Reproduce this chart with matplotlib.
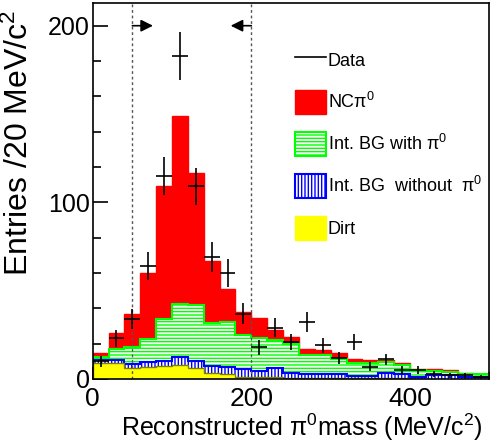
import numpy as np
import matplotlib
matplotlib.use("Agg")
import matplotlib.pyplot as plt
from matplotlib.lines import Line2D
from matplotlib.patches import Patch
from matplotlib.ticker import MultipleLocator

plt.rcParams['font.family'] = ['Liberation Sans', 'DejaVu Sans']
plt.rcParams['mathtext.fontset'] = 'custom'
plt.rcParams['mathtext.rm'] = 'Liberation Sans'
plt.rcParams['mathtext.it'] = 'Liberation Sans:italic'
plt.rcParams['hatch.linewidth'] = 1.0

# 20 MeV bins from 0 to 500
edges = np.arange(0, 520, 20)
centers = edges[:-1] + 10

# MC components (entries per bin), stacked bottom -> top
dirt = [9.2, 9.2, 6.0, 6.8, 7.2, 7.9, 6.0, 3.2, 2.6, 1.3, 1.3, 1.0, 0.3,
        0.3, 0.3, 0.3, 0.3, 0.3, 0.3, 0.3, 0.2, 0.2, 0.2, 0.2, 0.2]
bg_no_pi0 = [1.6, 1.6, 2.7, 2.7, 2.9, 4.3, 4.3, 4.0, 4.4, 4.2, 3.4, 5.0, 3.1,
             2.2, 2.2, 2.4, 1.3, 1.3, 3.1, 2.5, 0.7, 2.0, 1.8, 1.1, 0.7]
bg_pi0 = [1.4, 6.0, 9.1, 13.1, 23.9, 30.4, 31.3, 24.7, 25.1, 19.2, 18.3, 16.3, 16.6,
          11.1, 10.9, 8.8, 7.3, 7.6, 6.4, 4.9, 4.2, 2.5, 2.0, 1.5, 1.9]
ncpi0 = [2.3, 9.2, 19.0, 37.4, 75.3, 106.3, 75.0, 34.7, 18.9, 13.3, 11.7, 5.4, 3.6,
         3.2, 3.0, 3.0, 2.3, 1.6, 1.0, 1.2, 0.7, 0.8, 0.8, 0.5, 0.1]

data = [10, 23, 34, 64, 115, 183, 109, 69, 60, 37, 18, 29, 21,
        32, 19, 12, 21, 7, 11, 5, 5, 3, 2, 2, 1]

cum_dirt = np.array(dirt)
cum_nopi0 = cum_dirt + np.array(bg_no_pi0)
cum_pi0 = cum_nopi0 + np.array(bg_pi0)
cum_total = cum_pi0 + np.array(ncpi0)

fig = plt.figure(figsize=(4.98, 4.43), dpi=100)
ax = fig.add_axes([0.1861, 0.1447, 0.7964, 0.8479])

green = '#00ff00'
ax.stairs(cum_total, edges, fill=True, facecolor='#ff0000', edgecolor='#ff0000',
          linewidth=1, zorder=1)
ax.stairs(cum_pi0, edges, fill=True, facecolor='white', edgecolor=green,
          hatch='-----', linewidth=1.5, zorder=2)
ax.stairs(cum_nopi0, edges, fill=True, facecolor='white', edgecolor='#0000ff',
          hatch='|||||', linewidth=1.5, zorder=3)
ax.stairs(cum_dirt, edges, fill=True, facecolor='#ffff00', edgecolor='#808000',
          linewidth=1, zorder=4)

ax.errorbar(centers, data, xerr=10, yerr=np.sqrt(data), fmt='none',
            ecolor='black', elinewidth=1.2, capsize=0, zorder=10)

# selection window
for xc in (50, 200):
    ax.axvline(xc, color='#555555', linestyle=(0, (2, 2)), linewidth=1, zorder=6)
arrow = dict(arrowstyle='-|>,head_length=0.6,head_width=0.3', color='black',
             lw=1.2, shrinkA=0, shrinkB=0, mutation_scale=12)
ax.annotate('', xy=(76, 200), xytext=(50, 200), arrowprops=arrow, zorder=7)
ax.annotate('', xy=(174, 200), xytext=(200, 200), arrowprops=arrow, zorder=7)

ax.set_xlim(0, 500)
ax.set_ylim(0, 212.7)
ax.xaxis.set_major_locator(MultipleLocator(200))
ax.xaxis.set_minor_locator(MultipleLocator(50))
ax.yaxis.set_major_locator(MultipleLocator(100))
ax.yaxis.set_minor_locator(MultipleLocator(20))
ax.tick_params(which='both', direction='in', top=False, right=False, labelsize=18)
ax.tick_params(axis='x', which='major', length=9, width=1.2, pad=6, labelsize=19)
ax.tick_params(axis='x', which='minor', length=5, width=1.2)
ax.tick_params(axis='y', which='major', length=11, width=1.2, pad=2)
ax.tick_params(axis='y', which='minor', length=6, width=1.2)
for s in ax.spines.values():
    s.set_linewidth(1.2)
    s.set_zorder(12)

ax.set_xlabel('Reconstructed π$^{0}$mass (MeV/c$^{2}$)', fontsize=18, loc='right')
ax.xaxis.set_label_coords(0.984, -0.086)
ax.set_ylabel('Entries /20 MeV/c$^{2}$', fontsize=23, loc='top')
ax.yaxis.set_label_coords(-0.1455, 0.982)

handles = [
    Line2D([], [], color='black', lw=1.2),
    Patch(facecolor='#ff0000', edgecolor='#ff0000'),
    Patch(facecolor='white', edgecolor=green, hatch='-----', linewidth=1.5),
    Patch(facecolor='white', edgecolor='#0000ff', hatch='|||||', linewidth=1.5),
    Patch(facecolor='#ffff00', edgecolor='#ffff00'),
]
labels = ['Data', 'NCπ$^{0}$', 'Int. BG with π$^{0}$',
          'Int. BG  without  π$^{0}$', 'Dirt']
ax.legend(handles, labels, loc='upper left', bbox_to_anchor=(0.51, 0.881),
          frameon=False, fontsize=13, handlelength=1.72, handleheight=1.66,
          handletextpad=0.1, labelspacing=1.0, borderpad=0, borderaxespad=0)

fig.savefig('out.png', dpi=100)
